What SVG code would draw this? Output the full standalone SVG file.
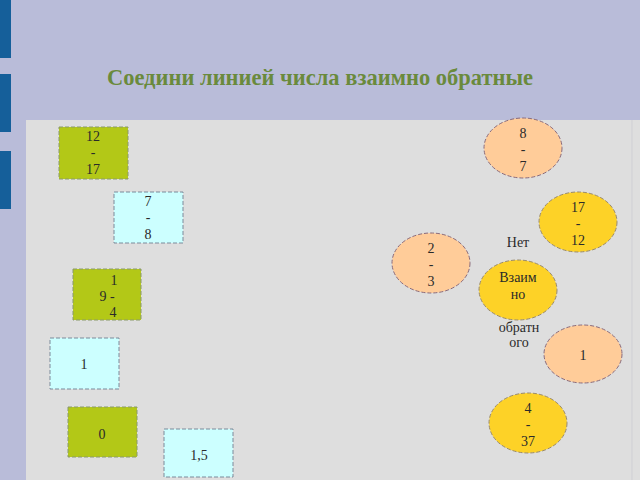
<svg xmlns="http://www.w3.org/2000/svg" width="640" height="480" viewBox="0 0 640 480">
<style>
.t{font-family:"Liberation Serif","DejaVu Serif","Times New Roman",serif;font-size:14px;fill:#2a2a2a;text-anchor:middle}
.h{font-family:"Liberation Serif","DejaVu Serif","Times New Roman",serif;font-size:22.5px;font-weight:bold;fill:#6a8a3c;text-anchor:middle}
.g{fill:#b3c817;stroke:#8a9a6a;stroke-width:1;stroke-dasharray:4,2}
.c{fill:#ccffff;stroke:#7a8a9a;stroke-width:1;stroke-dasharray:4,2}
.p{fill:#ffcc99;stroke:#8a6a7a;stroke-width:1;stroke-dasharray:4,2}
.y{fill:#fdd227;stroke:#9a8a6a;stroke-width:1;stroke-dasharray:4,2}
</style>
<rect x="0" y="0" width="640" height="480" fill="#b9bcd9"/>
<rect x="0" y="0" width="11" height="58" fill="#155f9a"/>
<rect x="0" y="74" width="11" height="58" fill="#155f9a"/>
<rect x="0" y="151" width="11" height="58" fill="#155f9a"/>
<rect x="26" y="120" width="614" height="360" fill="#dedede"/>
<line x1="632" y1="120" x2="632" y2="480" stroke="#cfcfd4" stroke-width="1"/>
<text class="h" x="320" y="85">Соедини линией числа взаимно обратные</text>
<g id="connectors"/>
<g id="n12-17"><rect class="g" x="59" y="127" width="69" height="52"/><text class="t" x="93" y="141">12</text><text class="t" x="93" y="157">-</text><text class="t" x="93" y="174">17</text></g>
<g id="n7-8"><rect class="c" x="114" y="192" width="69" height="51"/><text class="t" x="148" y="206">7</text><text class="t" x="148" y="222">-</text><text class="t" x="148" y="239">8</text></g>
<g id="n1-9-4"><rect class="g" x="73" y="269" width="68" height="51"/><text class="t" x="114" y="285">1</text><text class="t" x="107" y="301">9 -</text><text class="t" x="113" y="317">4</text></g>
<g id="n1"><rect class="c" x="50" y="338" width="69" height="51"/><text class="t" x="84" y="369">1</text></g>
<g id="n0"><rect class="g" x="68" y="407" width="69" height="50"/><text class="t" x="102" y="439">0</text></g>
<g id="n1-5"><rect class="c" x="164" y="429" width="69" height="48"/><text class="t" x="199" y="460">1,5</text></g>
<g id="e8-7"><ellipse class="p" cx="523" cy="148" rx="39" ry="30"/><text class="t" x="523" y="138">8</text><text class="t" x="523" y="154">-</text><text class="t" x="523" y="171">7</text></g>
<g id="e17-12"><ellipse class="y" cx="578" cy="222" rx="39" ry="30"/><text class="t" x="578" y="212">17</text><text class="t" x="578" y="228">-</text><text class="t" x="578" y="245">12</text></g>
<g id="e2-3"><ellipse class="p" cx="431" cy="263" rx="39" ry="30"/><text class="t" x="431" y="253">2</text><text class="t" x="431" y="269">-</text><text class="t" x="431" y="286">3</text></g>
<g id="e-none"><ellipse class="y" cx="518" cy="290" rx="39" ry="30"/><text class="t" x="518" y="247">Нет</text><text class="t" x="518" y="282">Взаим</text><text class="t" x="518" y="299">но</text><text class="t" x="519" y="332">обратн</text><text class="t" x="519" y="347">ого</text></g>
<g id="e1"><ellipse class="p" cx="583" cy="354" rx="39" ry="29"/><text class="t" x="583" y="360">1</text></g>
<g id="e4-37"><ellipse class="y" cx="528" cy="423" rx="39" ry="30"/><text class="t" x="528" y="413">4</text><text class="t" x="528" y="429">-</text><text class="t" x="528" y="446">37</text></g>
</svg>
